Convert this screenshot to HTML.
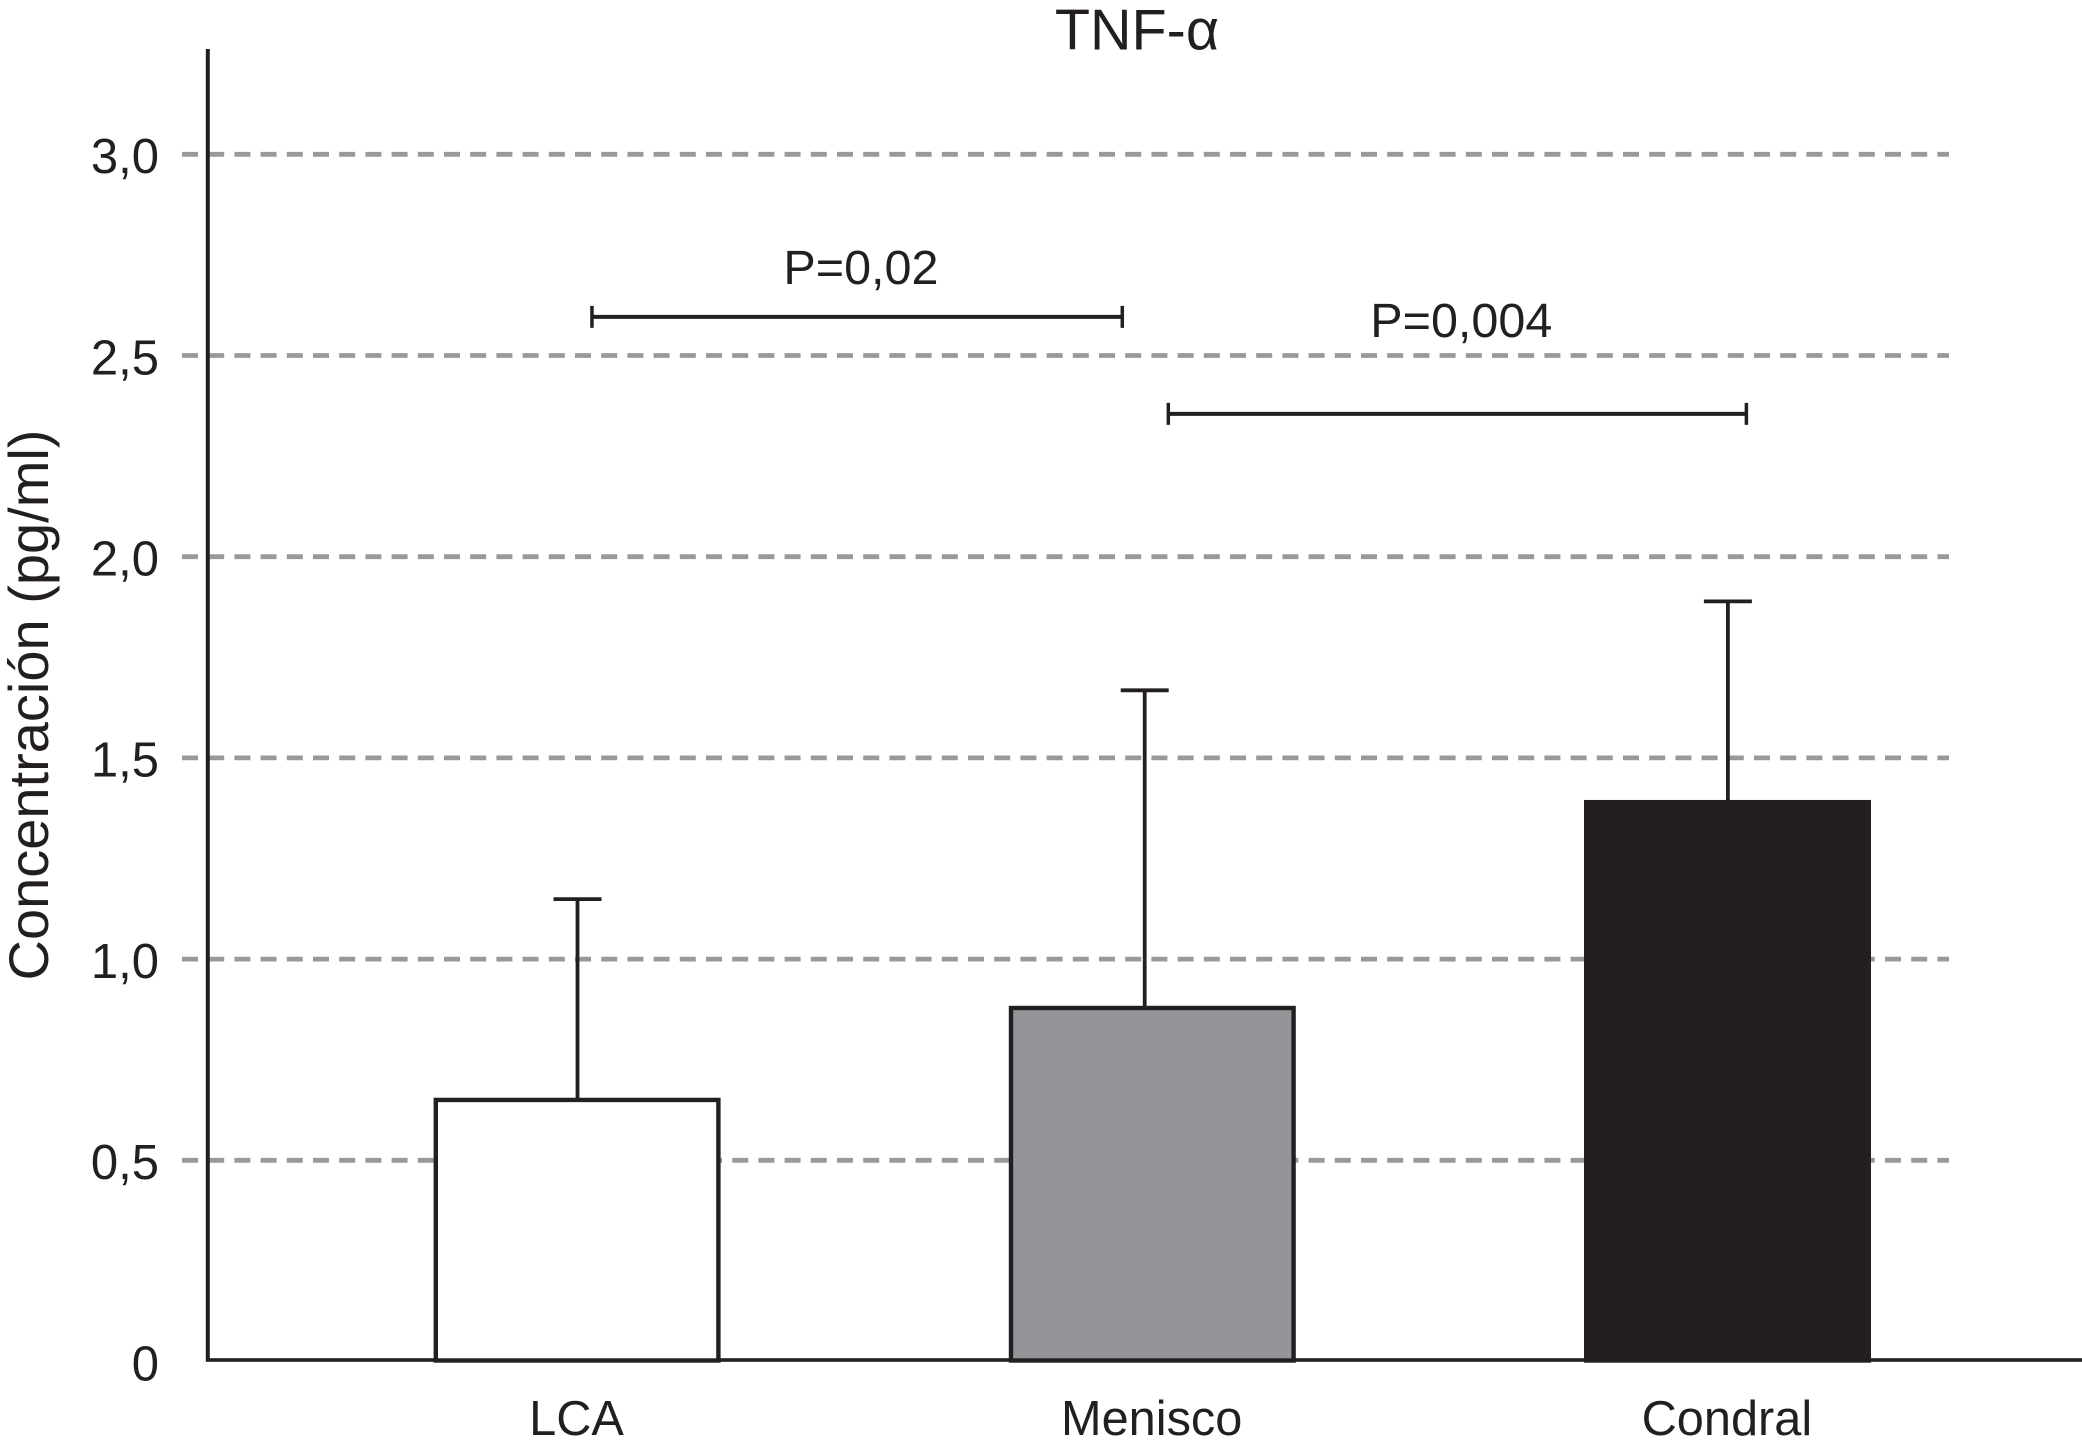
<!DOCTYPE html>
<html lang="es">
<head>
<meta charset="utf-8">
<title>TNF-α</title>
<style>
html,body{margin:0;padding:0;background:#fff}
body{width:2082px;height:1447px;overflow:hidden}
svg{display:block}
text{font-family:"Liberation Sans",sans-serif;fill:#231f20}
</style>
</head>
<body>
<svg id="chart" xmlns="http://www.w3.org/2000/svg" width="2082" height="1447" viewBox="0 0 2082 1447">
<rect x="0" y="0" width="2082" height="1447" fill="#fff"/>
<g id="grid"></g>
<g id="whiskers"></g>
<g id="axes"></g>
<g id="bars"></g>
<g id="ticks"></g>
<g id="cats"></g>
<g id="brackets"></g>
<text x="1137" y="49.5" font-size="57.5" text-anchor="middle">TNF-α</text>
<text transform="translate(48,705) rotate(-90)" font-size="56" text-anchor="middle">Concentración (pg/ml)</text>
</svg>
<script>
const categories = ['LCA', 'Menisco', 'Condral'];
const means = [0.65, 0.8785, 1.39];
const errorTops = [1.149, 1.668, 1.889];
const tickValues = [0, 0.5, 1, 1.5, 2, 2.5, 3];
const tickLabels = ['0', '0,5', '1,0', '1,5', '2,0', '2,5', '3,0'];
const barFills = ['#ffffff', '#939598', '#231f20'];
const pLabels = ['P=0,02', 'P=0,004'];
const pLevels = [2.596, 2.355];
const pFrom = [0.026, 1.028];
const pTo = [0.948, 2.033];

const NS = 'http://www.w3.org/2000/svg';
const INK = '#231f20';
function y(v) { return 1361.5 - v * 402.4; }
function x(c) { return 577 + c * 575.2; }
function make(parentId, tag, attrs, content) {
  const el = document.createElementNS(NS, tag);
  for (const k in attrs) el.setAttribute(k, attrs[k]);
  if (content !== undefined) el.textContent = content;
  document.getElementById(parentId).appendChild(el);
  return el;
}
function line(parentId, x1, y1, x2, y2, stroke, width, extra) {
  return make(parentId, 'line', Object.assign({ x1: x1, y1: y1, x2: x2, y2: y2, stroke: stroke, 'stroke-width': width }, extra || {}));
}

tickValues.forEach(function (v, i) {
  if (v > 0) {
    const g = line('grid', 182, y(v), 1949, y(v), '#999999', 4.8, { 'stroke-dasharray': '16 10.2' });
    
    
  }
  const t = make('ticks', 'text', { x: 159, y: y(v) + 18.8, 'font-size': 49, 'text-anchor': 'end' }, tickLabels[i]);
  
  
});

categories.forEach(function (name, i) {
  const key = name.toLowerCase();
  const shift = i === 1 ? -7.5 : 0.5;
  const cx = x(i);
  const stem = line('whiskers', cx + shift, y(means[i]), cx + shift, y(errorTops[i]), INK, 3.8);
  
  
  const cap = line('whiskers', cx + shift - 24, y(errorTops[i]), cx + shift + 24, y(errorTops[i]), INK, 3.8);
  
  

  const bar = make('bars', 'rect', {
    x: cx - 141.2, y: y(means[i]), width: 282.6, height: y(0) - y(means[i]) - 1,
    fill: barFills[i], stroke: INK, 'stroke-width': 4.4
  });
  
  

  const lab = make('cats', 'text', { x: cx - 0.5, y: 1435, 'font-size': 48.7, 'text-anchor': 'middle' }, name);
  
  
});

const xAxis = make('axes', 'rect', { x: 206, y: 1358.2, width: 1876, height: 3.6, fill: INK });


const yAxis = line('axes', 207.8, 49, 207.8, 1361.5, INK, 4);



pLabels.forEach(function (label, i) {
  const x1 = x(pFrom[i]);
  const x2 = x(pTo[i]);
  const yy = y(pLevels[i]);
  const span = line('brackets', x1, yy, x2, yy, INK, 4);
  
  
  const capL = line('brackets', x1, yy - 11, x1, yy + 11, INK, 3.5);
  
  
  const capR = line('brackets', x2, yy - 11, x2, yy + 11, INK, 3.5);
  
  
  const txt = make('brackets', 'text', {
    x: i === 0 ? x1 + 269 : x1 + 293, y: yy - (i === 0 ? 33 : 77), 'font-size': 48.5, 'text-anchor': 'middle'
  }, label);
  
  
});
</script>
</body>
</html>
